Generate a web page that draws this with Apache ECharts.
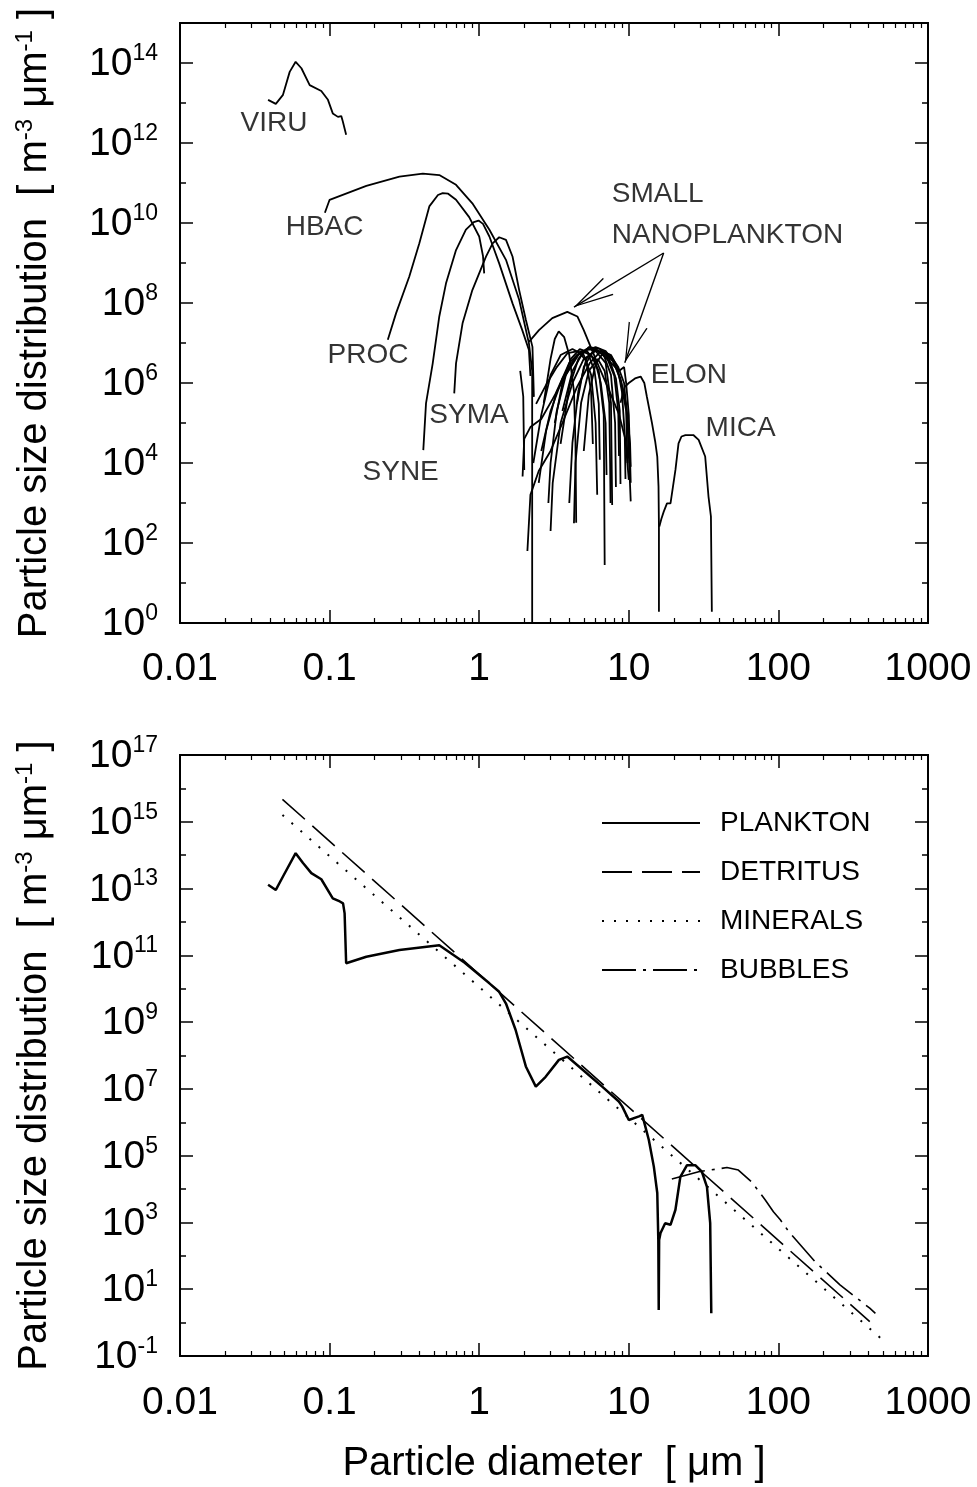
<!DOCTYPE html>
<html><head><meta charset="utf-8">
<script src="https://cdn.jsdelivr.net/npm/echarts@6.0.0/dist/echarts.min.js"></script>
<style>html,body{margin:0;padding:0;background:#fff}#c{width:977px;height:1487px}</style>
</head><body><div id="c"></div>
<script>
// ---------- axis ranges / ticks ----------
const xRange = [0.01, 1000];
const topYRange = [1, 1e15];
const bottomYRange = [0.1, 1e17];

// ---------- top panel: individual populations [diameter µm, N m^-3 µm^-1] ----------
const viru = [[0.0388,1.2e13],[0.0437,9.5e12],[0.0488,1.6e13],[0.0541,6.0e13],[0.0593,1.07e14],[0.0648,7.4e13],[0.0736,2.8e13],[0.088,2.0e13],[0.0975,1.2e13],[0.105,5.5e12],[0.1137,4.5e12],[0.1197,4.7e12],[0.1227,3.4e12],[0.129,1.6e12]];
const hbac = [[0.093,1.8e10],[0.1,3.8e10],[0.176,8.5e10],[0.293,1.45e11],[0.42,1.72e11],[0.541,1.58e11],[0.70,9.0e10],[0.90,3.1e10],[1.17,6.8e9],[1.51,1.2e9],[1.85,1.2e8],[2.15,9.8e6],[2.26,2.0e6],[2.26,1.0]];
const proc = [[0.245,1.2e7],[0.278,5.5e7],[0.341,4.6e8],[0.398,3.1e9],[0.464,2.6e10],[0.53,5.0e10],[0.57,5.6e10],[0.62,5.4e10],[0.70,3.8e10],[0.857,1.4e10],[1.0,4.6e9],[1.06,1.5e9],[1.08,5.5e8]];
const syne = [[0.423,2.1e4],[0.441,3.1e5],[0.489,3.1e6],[0.541,4.6e7],[0.60,3.1e8],[0.70,2.1e9],[0.815,6.8e9],[0.92,1.05e10],[0.99,1.15e10],[1.06,9.5e9],[1.17,4.6e9],[1.36,9.8e8],[1.67,9.8e7],[1.94,2.1e7],[2.15,6.7e6],[2.2,1.5e6]];
const syma = [[0.681,5.5e5],[0.70,3.1e6],[0.774,3.1e7],[0.90,2.1e8],[1.11,1.45e9],[1.23,3.1e9],[1.36,4.4e9],[1.51,3.8e9],[1.67,1.45e9],[1.85,2.1e8],[2.05,3.8e7],[2.27,8.0e6],[2.32,4.5e5]];
const smallNano = [[2.15,1.07e7],[2.51,2.1e7],[3.08,4.2e7],[3.88,6.0e7],[4.53,4.6e7],[5.0,2.1e7],[5.55,8.1e6],[6.3,2.6e6],[7.36,6.7e5],[8.58,1.7e5],[9.5,3.8e4],[10.0,3.8e3]];
const nanoTail = [[1.88,2.0e6],[1.97,4.6e5],[2.0,6.7e3]];
const nano1 = [[2.7,3.2e5],[3.0,4.0e6],[3.2,1.26e7],[3.4,1.95e7],[3.7,1.4e7],[4.0,5.0e6],[4.3,6.3e5],[4.4,3.2e4],[4.45,3.2e2]];
const nano2 = [[2.3,1e4],[2.6,1.6e5],[3.0,1.6e6],[3.5,5.0e6],[4.2,7.1e6],[5.0,5.0e6],[5.6,1.6e6],[6.0,1e5],[6.15,1.6e3]];
const nano3 = [[2.5,3.2e3],[2.8,6.3e4],[3.3,6.3e5],[4.0,3.2e6],[4.8,6.3e6],[5.6,5.0e6],[6.3,2.0e6],[6.8,1.6e5],[6.9,28]];
const nano4 = [[3.0,200],[3.1,3.2e3],[3.5,1e5],[4.2,1e6],[5.0,4.0e6],[6.0,6.3e6],[7.0,3.2e6],[7.6,3.2e5],[7.74,890]];
const nano5 = [[2.1,63],[2.2,1.6e3],[2.5,6.3e3],[3.0,2.0e4],[3.6,1e5],[4.5,7.9e5],[5.5,3.2e6],[6.5,6.3e6],[7.5,5.0e6],[8.5,2.5e6],[9.3,1e6],[9.8,1e5],[10.3,1.1e3]];
const nano6 = [[4.0,1e3],[4.2,3.2e4],[4.6,6.3e5],[5.2,4.0e6],[6.0,7.1e6],[6.8,5.0e6],[7.6,1.6e6],[8.1,1e5],[8.2,2.5e3]];
const nano7 = [[1.95,4.6e3],[2.0,4.0e4],[2.2,7.9e4],[2.6,1.26e5],[3.1,4.0e5],[3.8,1.6e6],[4.6,5.0e6],[5.5,7.9e6],[6.5,5.6e6],[7.6,3.2e6],[8.6,2.0e6],[9.3,2.5e6],[9.6,1e6],[10.0,1.6e5],[10.3,3.2e3]];
const nano8 = [[4.3,310],[4.4,1e4],[4.8,3.2e5],[5.4,2.0e6],[6.2,4.0e6],[6.9,2.0e6],[7.4,3.2e5],[7.5,1e4],[7.55,1e3]];
const nano9 = [[2.9,1e3],[3.0,1e4],[3.3,2e5],[3.8,1.6e6],[4.5,5e6],[5.2,6.3e6],[5.9,4.0e6],[6.5,1.0e6],[7.0,1.0e5],[7.1,5e3]];
const nano10 = [[3.5,3e4],[4.0,8e5],[4.6,4e6],[5.4,7.9e6],[6.4,7.1e6],[7.4,4.0e6],[8.2,1.3e6],[8.7,2e5],[8.8,3e3]];
const nano11 = [[4.5,3e5],[5.0,2.5e6],[5.8,6.3e6],[6.8,6.3e6],[7.8,3.5e6],[8.8,1.3e6],[9.6,3e5],[10.2,3e4],[10.3,8e3]];
const nano12 = [[3.2,1e5],[3.6,1e6],[4.1,4e6],[4.7,7e6],[5.3,6e6],[5.9,2e6],[6.3,3e5],[6.4,1.2e4]];
const nano13 = [[5.0,2e4],[5.4,5e5],[6.0,3e6],[6.8,6e6],[7.6,5e6],[8.4,2.5e6],[9.0,6e5],[9.4,5e4],[9.5,4e3]];
const nano14 = [[2.4,3e5],[2.8,9e5],[3.3,2.5e6],[3.9,5.6e6],[4.6,6.3e6],[5.2,3.5e6],[5.6,6e5],[5.75,3e4]];
const nano15 = [[3.6,2e5],[4.2,2e6],[5.0,6.3e6],[6.0,7.9e6],[7.0,6.3e6],[8.0,3.2e6],[8.9,1.0e6],[9.6,2e5],[9.8,1e4]];
const nano16 = [[2.6,2e4],[3.0,2e5],[3.6,1.3e6],[4.4,4.5e6],[5.2,7e6],[6.2,6.5e6],[7.2,4e6],[8.0,1.5e6],[8.5,2e5],[8.6,1.5e4]];
const elon = [[8.8,3.2e5],[9.4,8e5],[10.0,1.0e6],[11.0,1.3e6],[12.0,1.45e6],[12.7,1.0e6],[13.2,4.6e5],[14.3,9.8e4],[15.0,3.5e4],[15.5,1.45e4],[15.8,2.6e3],[15.9,2.6e2],[15.9,1.9]];
const mica = [[16.0,2.6e2],[16.5,4.0e2],[17.1,6.0e2],[18.0,9.8e2],[19.0,9.8e2],[20.5,6.7e3],[21.5,3.1e4],[22.5,4.6e4],[23.9,5.0e4],[27,5.0e4],[29.3,3.8e4],[32.4,1.45e4],[34.1,1.45e3],[35.4,4.6e2],[35.9,1.9]];

// ---------- bottom panel: bulk components ----------
const plankton = [[0.0388,1.3e13],[0.0437,9.1e12],[0.0488,2.3e13],[0.0593,1.15e14],[0.0664,5.8e13],[0.0755,2.9e13],[0.088,1.9e13],[0.105,5.1e12],[0.117,4.1e12],[0.123,3.6e12],[0.126,1.8e12],[0.129,5.8e10],[0.176,9.1e10],[0.293,1.45e11],[0.541,2.0e11],[0.8,6.0e10],[1.17,1.45e10],[1.36,8.1e9],[1.51,3.6e9],[1.75,5.9e8],[2.05,4.7e7],[2.39,1.17e7],[2.78,2.3e7],[3.41,7.4e7],[3.88,9.3e7],[4.64,4.7e7],[6.64,1.17e7],[8.58,4.2e6],[9.03,3.0e6],[10.0,1.17e6],[11.7,1.5e6],[12.3,1.66e6],[12.9,7.4e5],[13.6,3.0e5],[14.7,4.7e4],[15.5,7.6e3],[15.75,3.0e2],[15.85,2.4],[15.95,3.0e2],[16.3,4.8e2],[17.5,9.5e2],[19.0,8.5e2],[20.5,2.4e3],[22.1,2.3e4],[24.5,5.2e4],[27.8,5.2e4],[30.8,3.3e4],[33.3,1.17e4],[35.0,9.5e2],[35.6,1.9]];
const detritus = [[0.0484,4.7e15],[408,1.07]];
const minerals = [[0.0484,1.6e15],[480,0.35]];
const bubbles = [[19.4,2.0e4],[29.3,3.3e4],[45.3,4.4e4],[54,3.7e4],[66,1.66e4],[81.5,4.8e3],[92.6,2.1e3],[103,1.2e3],[117,5.4e2],[175,68],[258,13.5],[408,2.7],[445,1.9]];

// ---------- annotations (anchored in data coordinates) ----------
const annotations = [
  ['VIRU', 0.0254, 3.16e12],
  ['HBAC', 0.0509, 7.9e9],
  ['PROC', 0.097, 5.0e6],
  ['SYNE', 0.166, 6.0e3],
  ['SYMA', 0.464, 1.58e5],
  ['SMALL\nNANOPLANKTON', 7.7, 1.6e10],
  ['ELON', 14.0, 1.58e6],
  ['MICA', 32.6, 7.5e4]
];
const arrowFrom = [17.1, 1.78e9];
const arrowTo = [[4.3, 7.9e7], [9.4, 3.2e6]];

const INK = '#000';
const FONT = "'Liberation Sans', Arial, Helvetica, sans-serif";

function decadeLabel(v) {
  const e = Math.round(Math.log10(v));
  return e < 0 ? Math.pow(10, e).toFixed(-e) : String(Math.round(Math.pow(10, e)));
}
function powLabel(parity) {
  return function (v) {
    const e = Math.round(Math.log10(v));
    if (Math.abs(e % 2) !== parity) return '';
    return '{b|10}{s|' + e + '}';
  };
}

function xAx(gridIndex, position, showLabel, name, margin) {
  const a = {
    type: 'log', logBase: 10, gridIndex, position, min: xRange[0], max: xRange[1], interval: 1,
    axisLine: { show: true, onZero: false, lineStyle: { color: INK, width: 2 } },
    axisTick: { show: true, inside: true, length: 13, lineStyle: { color: INK, width: 1.5 } },
    minorTick: { show: true, splitNumber: 9, length: 5, lineStyle: { color: INK, width: 1.2 } },
    splitLine: { show: false }, minorSplitLine: { show: false },
    axisLabel: { show: showLabel, margin: margin || 26, formatter: decadeLabel, color: INK, fontSize: 39, fontFamily: FONT }
  };
  if (name) {
    a.name = name; a.nameLocation = 'middle'; a.nameGap = 88;
    a.nameTextStyle = { color: INK, fontSize: 40, fontFamily: FONT };
  }
  return a;
}
const yRich = {
  b: { fontSize: 39, fontFamily: FONT, color: INK, verticalAlign: 'bottom', lineHeight: 42 },
  s: { fontSize: 23, fontFamily: FONT, color: INK, verticalAlign: 'top', lineHeight: 32 }
};
const titleRich = {
  s: { fontSize: 24, fontFamily: FONT, color: INK, verticalAlign: 'top', lineHeight: 32 },
  t: { fontSize: 40, fontFamily: FONT, color: INK, verticalAlign: 'bottom', lineHeight: 42 }
};
function yAx(gridIndex, position, range, interval, tickLen, labelParity, name) {
  const a = {
    type: 'log', logBase: 10, gridIndex, position, min: range[0], max: range[1], interval,
    axisLine: { show: true, onZero: false, lineStyle: { color: INK, width: 2 } },
    axisTick: { show: true, inside: true, length: tickLen, lineStyle: { color: INK, width: 1.5 } },
    minorTick: { show: false }, splitLine: { show: false },
    axisLabel: labelParity == null ? { show: false } :
      { show: true, margin: 22, formatter: powLabel(labelParity), rich: yRich, showMinLabel: true, showMaxLabel: true }
  };
  if (name) {
    a.name = name; a.nameLocation = 'middle'; a.nameGap = 125; a.nameRotate = 90;
    a.nameTextStyle = { rich: titleRich, color: INK, fontSize: 40, fontFamily: FONT };
  }
  return a;
}
const yTitle = '{t|Particle size distribution  [ m}{s|-3}{t| μm}{s|-1}{t| ]}';

const topCurves = [['VIRU', viru], ['HBAC', hbac], ['PROC', proc], ['SYNE', syne], ['SYMA', syma],
  ['SMALL NANO', smallNano], ['TAIL', nanoTail], ['N1', nano1], ['N2', nano2], ['N3', nano3], ['N4', nano4], ['N5', nano5],
  ['N6', nano6], ['N7', nano7], ['N8', nano8], ['N9', nano9], ['N10', nano10], ['N11', nano11], ['N12', nano12],
  ['N13', nano13], ['N14', nano14], ['N15', nano15], ['N16', nano16], ['ELON', elon], ['MICA', mica]];

const series = topCurves.map(([name, data]) => ({
  type: 'line', name, xAxisIndex: 0, yAxisIndex: 0, data, symbol: 'none', silent: true,
  lineStyle: { color: INK, width: 1.8 }, animation: false
}));

const chevron = 'path://M12,0 L12.2,0.2 L12,0.2 Z M12,22 L24,44 L22.4,44 L12,24.8 L1.6,44 L0,44 Z';
series.push({
  type: 'scatter', name: 'labels', xAxisIndex: 0, yAxisIndex: 0, symbolSize: 0, silent: true, animation: false,
  data: annotations.map(a => ({ value: [a[1], a[2]], label: { formatter: a[0] } })),
  label: { show: true, position: 'right', distance: 0, color: INK, fontSize: 28, fontFamily: FONT, lineHeight: 41, align: 'left' },
  markLine: {
    silent: true, animation: false, symbol: ['none', chevron], symbolSize: [20, 80],
    lineStyle: { color: INK, width: 1.4, type: 'solid' }, label: { show: false },
    data: arrowTo.map(t => [{ coord: arrowFrom }, { coord: t }])
  }
});

series.push(
  { type: 'line', name: 'PLANKTON', xAxisIndex: 2, yAxisIndex: 4, data: plankton, symbol: 'none', animation: false,
    itemStyle: { color: INK }, lineStyle: { color: INK, width: 2.5, type: 'solid' } },
  { type: 'line', name: 'DETRITUS', xAxisIndex: 2, yAxisIndex: 4, data: detritus, symbol: 'none', animation: false,
    itemStyle: { color: INK }, lineStyle: { color: INK, width: 1.6, type: [30, 10] } },
  { type: 'line', name: 'MINERALS', xAxisIndex: 2, yAxisIndex: 4, data: minerals, symbol: 'none', animation: false,
    itemStyle: { color: INK }, lineStyle: { color: INK, width: 2, type: [2, 10] } },
  { type: 'line', name: 'BUBBLES', xAxisIndex: 2, yAxisIndex: 4, data: bubbles, symbol: 'none', animation: false,
    itemStyle: { color: INK }, lineStyle: { color: INK, width: 1.6, type: [34, 7, 3, 7] } }
);

const option = {
  backgroundColor: '#fff',
  animation: false,
  textStyle: { fontFamily: FONT },
  grid: [
    { left: 180, top: 23, width: 748, height: 600 },
    { left: 180, top: 755, width: 748, height: 601 }
  ],
  xAxis: [
    xAx(0, 'bottom', true, null, 27),
    xAx(0, 'top', false),
    xAx(1, 'bottom', true, 'Particle diameter  [ μm ]', 28),
    xAx(1, 'top', false)
  ],
  yAxis: [
    yAx(0, 'left', topYRange, 2, 13, 0, yTitle),
    yAx(0, 'left', topYRange, 1, 6, null),
    yAx(0, 'right', topYRange, 2, 13, null),
    yAx(0, 'right', topYRange, 1, 6, null),
    yAx(1, 'left', bottomYRange, 2, 13, 1, yTitle),
    yAx(1, 'left', bottomYRange, 1, 6, null),
    yAx(1, 'right', bottomYRange, 2, 13, null),
    yAx(1, 'right', bottomYRange, 1, 6, null)
  ],
  legend: {
    data: ['PLANKTON', 'DETRITUS', 'MINERALS', 'BUBBLES'],
    orient: 'vertical', left: 596, top: 803, itemWidth: 98, itemHeight: 14, itemGap: 19,
    selectedMode: false,
    itemStyle: { opacity: 0, borderWidth: 0 },
    textStyle: { color: INK, fontSize: 28, fontFamily: FONT, lineHeight: 30, padding: [0, 0, 0, 15] }
  },
  series
};

const chart = echarts.init(document.getElementById('c'), null, { renderer: 'canvas' });
chart.setOption(option);
</script></body></html>
